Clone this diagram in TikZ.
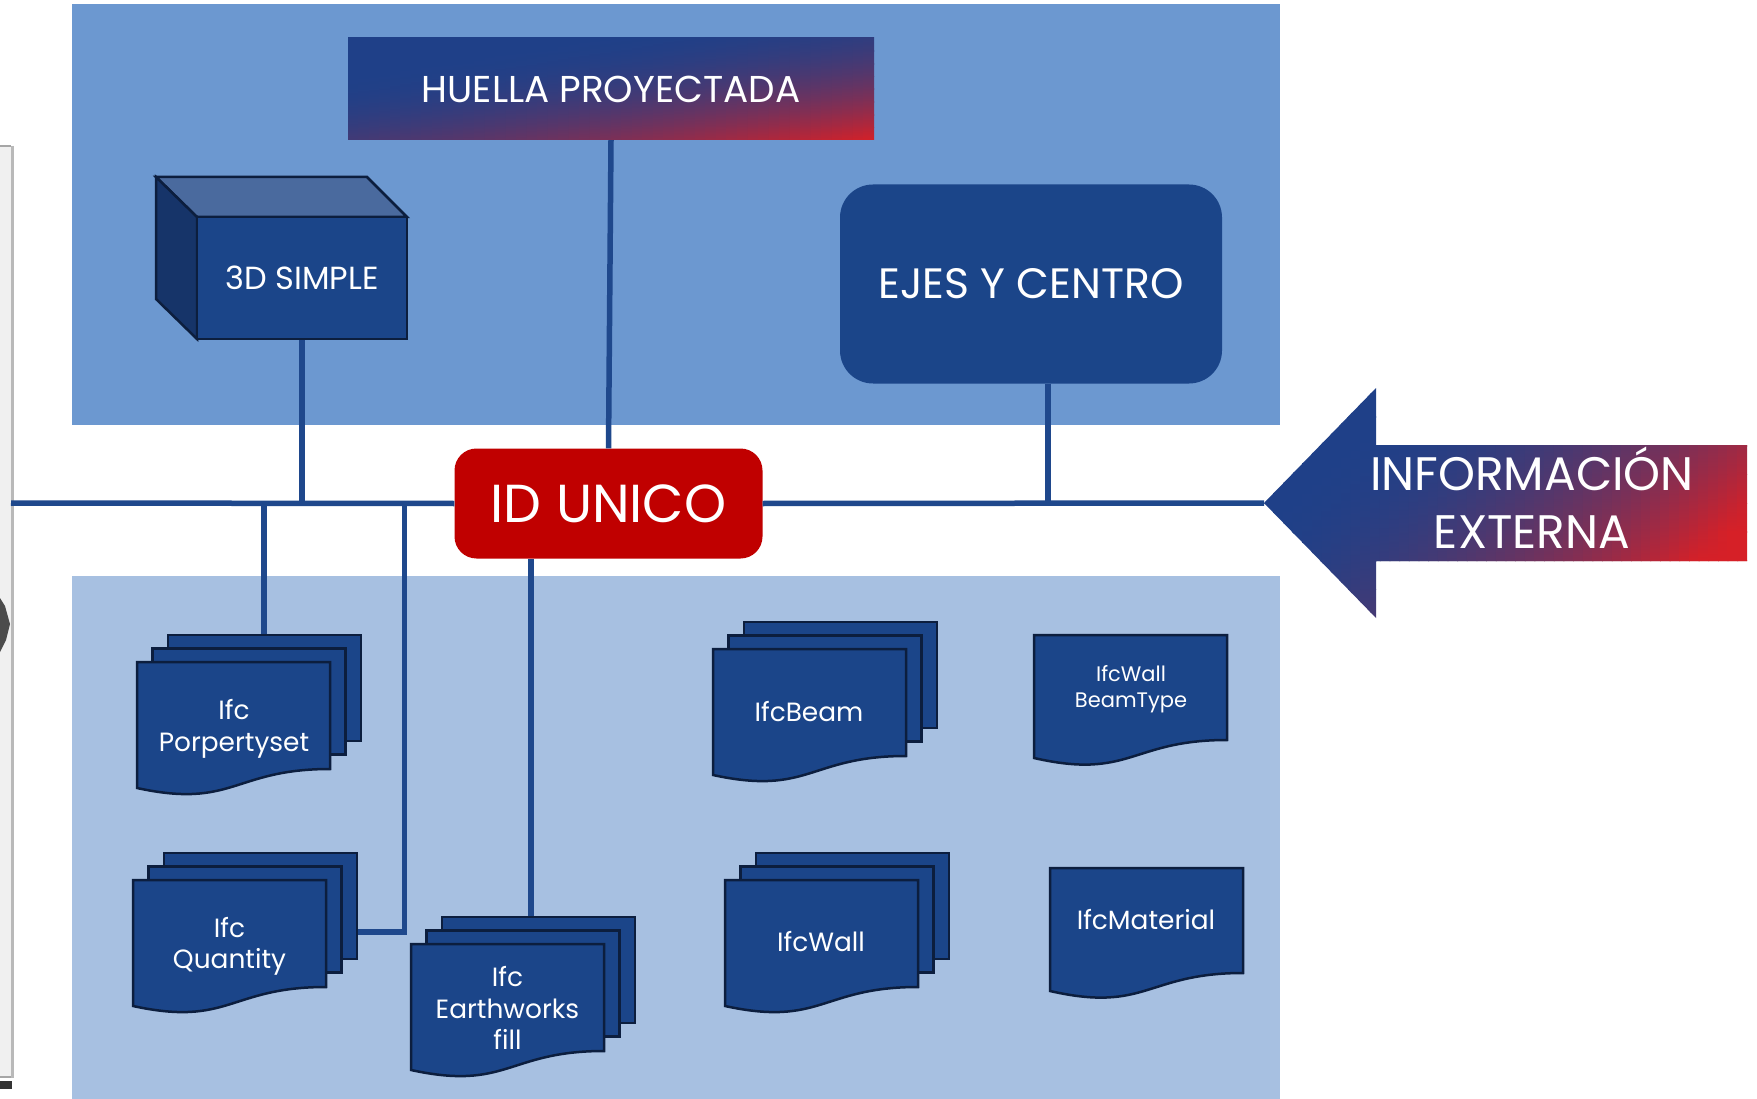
\documentclass[tikz,border=0pt]{standalone}
\usepackage{fontspec}
\setmainfont{Poppins}
\usetikzlibrary{calc}
\definecolor{toppanel}{RGB}{108,152,208}
\definecolor{botpanel}{RGB}{167,192,225}
\definecolor{lineblue}{RGB}{31,72,140}
\definecolor{docfill}{RGB}{27,69,137}
\definecolor{docedge}{RGB}{12,30,62}
\definecolor{cubetop}{RGB}{74,106,158}
\definecolor{cubeleft}{RGB}{22,52,105}
\definecolor{idred}{RGB}{192,0,0}
\definecolor{gblue}{RGB}{31,64,136}
\definecolor{gred}{RGB}{214,32,39}
\tikzset{
  conn/.style={draw=lineblue, line width=5.5pt},
  docst/.style={fill=docfill, draw=docedge, line width=2.5pt, line join=miter},
  doctext/.style={text=white, align=center, font=\fontsize{26.4}{31.5}\selectfont},
}
% gradient fill of a box: x0 y0 x1 y1 a b lo
\newcommand\gradfill[7]{%
 \foreach \gfI in {0,...,49} {
  \foreach \gfJ in {0,...,7} {
   \pgfmathsetmacro\gfTx{(\gfI+0.5)/50}
   \pgfmathsetmacro\gfSa{\gfJ/8}
   \pgfmathsetmacro\gfSb{(\gfJ+1)/8}
   \pgfmathsetmacro\gfFt{#5*\gfTx + #6*\gfSa}
   \pgfmathsetmacro\gfFb{#5*\gfTx + #6*\gfSb}
   \pgfmathsetmacro\gfHt{min(1,max(0,(\gfFt-#7)/(1-#7)))}
   \pgfmathsetmacro\gfHb{min(1,max(0,(\gfFb-#7)/(1-#7)))}
   \pgfmathsetmacro\gfGt{100*\gfHt*\gfHt}
   \pgfmathsetmacro\gfGb{100*\gfHb*\gfHb}
   \pgfmathsetmacro\gfUa{\gfI/50}
   \pgfmathsetmacro\gfUb{(\gfI+1)/50}
   \pgfmathsetmacro\gfXa{#1+\gfUa*(#3-#1)}
   \pgfmathsetmacro\gfXb{#1+\gfUb*(#3-#1)+0.8}
   \pgfmathsetmacro\gfYa{#2+\gfSa*(#4-#2)}
   \pgfmathsetmacro\gfYb{#2+\gfSb*(#4-#2)+0.6}
   \colorlet{gfct}{gred!\gfGt!gblue}
   \colorlet{gfcb}{gred!\gfGb!gblue}
   \shade[top color=gfct, bottom color=gfcb] (\gfXa,\gfYa) rectangle (\gfXb,\gfYb);
 }}}
\newcommand\mydoc[2]{\draw[docst,shift={(#1,#2)}] (0,0) -- (193,0) -- (193,105) .. controls (96.5,105) and (96.5,145) .. (0,123) -- cycle;}
\newcommand\mymulti[2]{\begin{scope}[shift={(#1,#2)}]
  \draw[docst] (31,-27) rectangle (224,79);
  \draw[docst] (15.5,-13.5) rectangle (208.5,92.5);
  \draw[docst] (0,0) -- (193,0) -- (193,107) .. controls (96.5,107) and (96.5,147) .. (0,126) -- cycle;
\end{scope}}
\begin{document}
\begin{tikzpicture}[x=1pt,y=-1pt]
\useasboundingbox (0,0) rectangle (1757,1099);
\fill[white] (0,0) rectangle (1757,1099);
% page edge artifacts at left
\fill[gray!12] (0,146) rectangle (12,1078);
\draw[gray!70, line width=1.2pt] (0,146) -- (11,146);
\draw[gray!55, line width=3pt] (12,146) -- (12,1078);
\draw[gray!70, line width=1.2pt] (0,1077) -- (11,1077);
\fill[black!80] (0,1081) rectangle (12,1089);
\fill[black!70] (0,598) -- (5,606) -- (10,624) -- (6,640) -- (0,652) -- cycle;
% panels
\fill[toppanel] (72,4.5) rectangle (1280,425);
\fill[botpanel] (72,576) rectangle (1280,1099);
% named anchors
\coordinate (L) at (11,503);
\coordinate (tip) at (1264,503);
\coordinate (qj) at (404.5,503);
% ID box (node first for anchors)
\node[fill=idred, rounded corners=22pt, minimum width=308pt, minimum height=110pt, inner sep=0pt] (id) at (608.5,503.5) {};
% connectors
\draw[conn] (L) -- (id.west);
\draw[conn] (id.east) -- (tip);
% cube
\fill[cubetop, draw=docedge, line width=2.5pt, line join=miter] (156,177) -- (367,177) -- (407,217) -- (197,217) -- cycle;
\fill[cubeleft, draw=docedge, line width=2.5pt, line join=miter] (156,177) -- (197,217) -- (197,339) -- (156,299) -- cycle;
\node[docst, minimum width=210pt, minimum height=122pt, inner sep=0pt, text=white, font=\fontsize{32}{38}\selectfont] (cube) at (302,278) {3D SIMPLE};
\draw[conn] (cube.south) -- (cube.south |- L);
% huella
\begin{scope}
\clip (348,38) rectangle (874,140);
\gradfill{348}{38}{874}{140}{0.45}{0.55}{0.2}
\end{scope}
\node[minimum width=526pt, minimum height=102pt, inner sep=0pt, text=white, font=\fontsize{37.4}{44}\selectfont] (huella) at (611,89) {HUELLA PROYECTADA};
\draw[conn] (huella.south) -- (id.north);
% ejes
\node[fill=docfill, rounded corners=33pt, minimum width=382pt, minimum height=199pt, inner sep=0pt, text=white, font=\fontsize{42.5}{50}\selectfont] (ejes) at (1031,284) {EJES Y CENTRO};
\draw[conn] ([xshift=17pt]ejes.south) -- ([xshift=17pt]ejes.south |- L);
% documents
\coordinate (propTop) at (264,635);
\coordinate (quR) at (356,932);
\coordinate (eaTop) at (531,917);
\draw[conn] (propTop) -- (propTop |- L);
\draw[conn] (quR) -| (qj);
\draw[conn] (eaTop) -- (eaTop |- id.south);
\mymulti{137}{662}
\mymulti{133}{880}
\mymulti{411}{944}
\mymulti{713}{649}
\mymulti{725}{880}
\mydoc{1034}{635}
\mydoc{1050}{868}
\node[doctext] (prop) at (234,729) {Ifc\\Porpertyset};
\node[doctext] (quan) at (229.5,946.5) {Ifc\\Quantity};
\node[doctext] (earth) at (507.5,1008) {Ifc\\Earthworks\\fill};
\node[doctext] (beam) at (809,711.5) {IfcBeam};
\node[doctext] (wall) at (821,942) {IfcWall};
\node[doctext, font=\fontsize{21}{26}\selectfont] (wbt) at (1131,689) {IfcWall\\BeamType};
\node[doctext] (mat) at (1146,920) {IfcMaterial};
% ID text
\node[text=white, font=\fontsize{53.5}{60}\selectfont] (idtext) at (id.center) {ID UNICO};
% arrow
\begin{scope}
\clip (tip) -- (1376,388) -- (1376,445) -- (1747,445) -- (1747,561) -- (1376,561) -- (1376,618) -- cycle;
\gradfill{1264}{388}{1747}{618}{0.78}{0.4}{0.22}
\end{scope}
\node[text=white, align=center, font=\fontsize{47}{58}\selectfont] (info) at (1532,497.5) {INFORMACIÓN\\EXTERNA};
\end{tikzpicture}
\end{document}
